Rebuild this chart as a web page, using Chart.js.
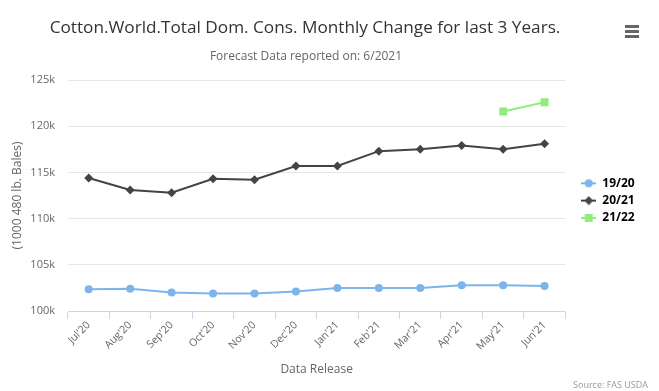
<!DOCTYPE html>
<html lang="en">
<head>
  <meta charset="UTF-8" />
  <title>Cotton World Total Dom. Cons.</title>
  <script src="https://cdn.jsdelivr.net/npm/chart.js"></script>
  <style>
    html, body { margin: 0; padding: 0; background: #fff; }
    #wrap { width: 659px; height: 391px; }
  </style>
</head>
<body>
  <div id="wrap"><canvas id="consChart" width="659" height="391"></canvas></div>

  <script>
    // report months on the x axis
    const months = ["Jul'20", "Aug'20", "Sep'20", "Oct'20", "Nov'20", "Dec'20",
                    "Jan'21", "Feb'21", "Mar'21", "Apr'21", "May'21", "Jun'21"];

    // total domestic consumption, 1000 480 lb. bales
    const mySeries1920 = [102350, 102420, 102000, 101900, 101900, 102100,
                          102500, 102500, 102500, 102800, 102800, 102700];
    const mySeries2021 = [114400, 113100, 112800, 114300, 114200, 115700,
                          115700, 117300, 117500, 117900, 117500, 118100];
    const mySeries2122 = [null, null, null, null, null, null,
                          null, null, null, null, 121600, 122600];

    const yTicks = [100000, 105000, 110000, 115000, 120000, 125000];

    const FONT = "'Open Sans', 'Noto Sans', sans-serif";

    // little line + marker swatch for the legend
    function legendIcon(color, shape) {
      const c = document.createElement('canvas');
      c.width = 15; c.height = 10;
      const g = c.getContext('2d');
      g.strokeStyle = color; g.fillStyle = color; g.lineWidth = 2;
      g.beginPath(); g.moveTo(0, 5); g.lineTo(15, 5); g.stroke();
      g.beginPath();
      if (shape === 'circle') {
        g.arc(7.5, 5, 4, 0, Math.PI * 2);
      } else if (shape === 'diamond') {
        g.moveTo(7.5, 0.5); g.lineTo(12, 5); g.lineTo(7.5, 9.5); g.lineTo(3, 5); g.closePath();
      } else {
        g.rect(3.5, 1, 8, 8);
      }
      g.fill();
      return c;
    }

    // header, menu icon, credit text; also parks the legend beside the plot
    const decorPlugin = {
      id: 'decor',
      afterLayout(chart) {
        const lg = chart.legend;
        const w = lg.right - lg.left;
        const h = lg.bottom - lg.top;
        lg.left = 576; lg.right = lg.left + w;
        lg.top = 172; lg.bottom = lg.top + h;
      },
      afterDraw(chart) {
        const ctx = chart.ctx;
        ctx.save();
        ctx.textAlign = 'center';
        ctx.textBaseline = 'middle';
        ctx.fillStyle = '#333333';
        ctx.font = "17.2px " + FONT;
        ctx.fillText('Cotton.World.Total Dom. Cons. Monthly Change for last 3 Years.', 305, 28);
        ctx.fillStyle = '#666666';
        ctx.font = "12px " + FONT;
        ctx.fillText('Forecast Data reported on: 6/2021', 306, 57);

        // context menu icon
        ctx.fillStyle = '#666666';
        [25, 30, 35].forEach(y => ctx.fillRect(625, y, 14, 3));

        ctx.textAlign = 'right';
        ctx.fillStyle = '#999999';
        ctx.font = "9px " + FONT;
        ctx.fillText('Source: FAS USDA', 648, 385);
        ctx.restore();
      }
    };

    const ctx = document.getElementById('consChart').getContext('2d');
    new Chart(ctx, {
      type: 'line',
      data: {
        labels: months,
        datasets: [
          {
            label: '19/20',
            data: mySeries1920,
            borderColor: '#7cb5ec',
            backgroundColor: '#7cb5ec',
            borderWidth: 2,
            pointStyle: 'circle',
            pointRadius: 4,
            pointBorderWidth: 0,
            legendIcon: legendIcon('#7cb5ec', 'circle')
          },
          {
            label: '20/21',
            data: mySeries2021,
            borderColor: '#434348',
            backgroundColor: '#434348',
            borderWidth: 2,
            pointStyle: 'rectRot',
            pointRadius: 4.5,
            pointBorderWidth: 0,
            legendIcon: legendIcon('#434348', 'diamond')
          },
          {
            label: '21/22',
            data: mySeries2122,
            borderColor: '#90ed7d',
            backgroundColor: '#90ed7d',
            borderWidth: 2,
            pointStyle: 'rect',
            pointRadius: 5.6,
            pointBorderWidth: 0,
            legendIcon: legendIcon('#90ed7d', 'square')
          }
        ]
      },
      options: {
        responsive: false,
        animation: false,
        layout: { padding: { top: 80, left: 0, right: 25, bottom: 0 } },
        elements: { line: { tension: 0 } },
        plugins: {
          title: { display: false },
          tooltip: { enabled: false },
          legend: {
            position: 'right',
            align: 'start',
            labels: {
              usePointStyle: true,
              pointStyleWidth: 15,
              padding: 5.3,
              color: '#333333',
              font: { family: FONT, size: 12, weight: 'bold' },
              generateLabels(chart) {
                return chart.data.datasets.map((ds, i) => ({
                  text: ds.label,
                  fillStyle: ds.backgroundColor,
                  strokeStyle: ds.borderColor,
                  lineWidth: 0,
                  pointStyle: ds.legendIcon,
                  hidden: !chart.isDatasetVisible(i),
                  datasetIndex: i
                }));
              }
            }
          }
        },
        scales: {
          x: {
            offset: true,
            afterFit(scale) { scale.height = 80; },
            grid: {
              offset: true,
              drawOnChartArea: false,
              tickLength: 8,
              color: '#ccd6eb'
            },
            border: { color: '#ccd6eb' },
            ticks: {
              minRotation: 45,
              maxRotation: 45,
              color: '#666666',
              font: { family: FONT, size: 10.5 },
              padding: 0
            },
            title: {
              display: true,
              text: 'Data Release',
              color: '#666666',
              font: { family: FONT, size: 12 },
              padding: { top: 0, bottom: 14 }
            }
          },
          y: {
            min: 100000,
            max: 125000,
            afterFit(scale) { scale.width = 68; },
            afterBuildTicks(scale) {
              scale.ticks = yTicks.map(v => ({ value: v }));
            },
            grid: { color: '#e6e6e6', drawTicks: false },
            border: { display: false },
            ticks: {
              color: '#666666',
              font: { family: FONT, size: 11 },
              padding: 13,
              callback: v => (v / 1000) + 'k'
            },
            title: {
              display: true,
              text: '(1000 480 lb. Bales)',
              color: '#666666',
              font: { family: FONT, size: 12 },
              padding: { top: 10, bottom: 0 }
            }
          }
        }
      },
      plugins: [decorPlugin]
    });
  </script>
</body>
</html>
